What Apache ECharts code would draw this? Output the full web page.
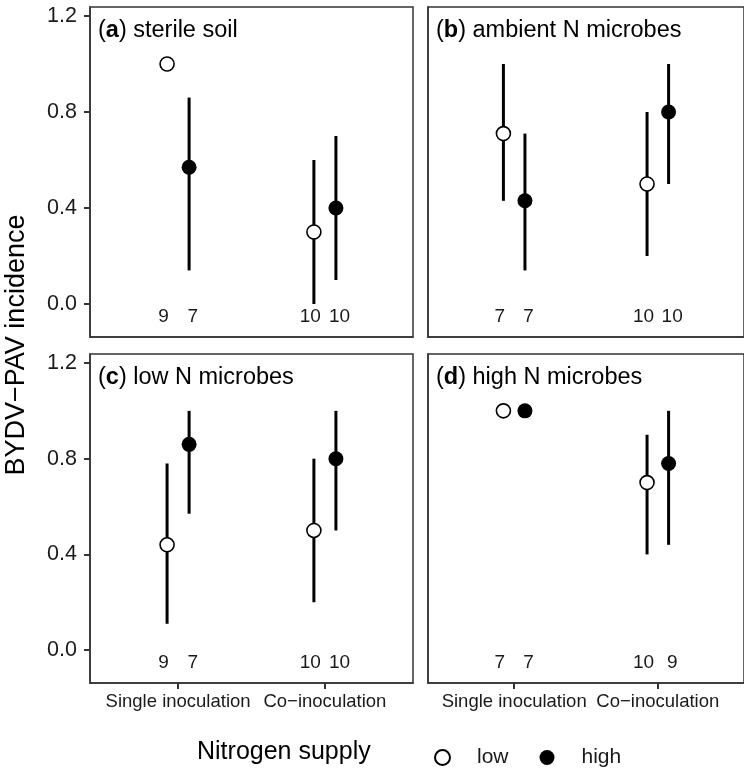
<!DOCTYPE html>
<html>
<head>
<meta charset="utf-8">
<script src="https://cdn.jsdelivr.net/npm/echarts@6/dist/echarts.min.js"></script>
<style>
  html, body { margin: 0; padding: 0; background: #fff; }
  #chart { width: 744px; height: 773px; }
</style>
</head>
<body>
<div id="chart"></div>
<script>
// categories and panels
const categories = ["Single inoculation", "Co\u2212inoculation"];
const panelLetters = ["a", "b", "c", "d"];
const panelNames = ["sterile soil", "ambient N microbes", "low N microbes", "high N microbes"];

// low N supply: mean, lower, upper (per panel: [single, co])
const lowMean = [[1.0, 0.3], [0.71, 0.5], [0.44, 0.5], [1.0, 0.7]];
const lowLo = [[null, 0.0], [0.43, 0.2], [0.11, 0.2], [null, 0.4]];
const lowHi = [[null, 0.6], [1.0, 0.8], [0.78, 0.8], [null, 0.9]];
const lowN = [[9, 10], [7, 10], [9, 10], [7, 10]];

// high N supply
const highMean = [[0.57, 0.4], [0.43, 0.8], [0.86, 0.8], [1.0, 0.78]];
const highLo = [[0.14, 0.1], [0.14, 0.5], [0.57, 0.5], [null, 0.44]];
const highHi = [[0.86, 0.7], [0.71, 1.0], [1.0, 1.0], [null, 1.0]];
const highN = [[7, 10], [7, 10], [7, 10], [7, 9]];

const yTicks = [0, 0.4, 0.8, 1.2];

const FONT = "'Liberation Sans', Arial, Helvetica, sans-serif";
const dodge = 0.075;     // point dodge
const nDodge = 0.1;      // sample size label dodge
const nY = -0.055;

// panel boxes (px)
const boxes = [
  { left: 90, top: 7, width: 323, height: 330 },
  { left: 428, top: 7, width: 323, height: 330 },
  { left: 90, top: 354, width: 323, height: 329 },
  { left: 428, top: 354, width: 323, height: 329 }
];

const myChart = echarts.init(document.getElementById("chart"));

const grids = [], xAxes = [], yAxes = [], series = [], titles = [];

boxes.forEach(function (b, i) {
  const isLeft = i % 2 === 0;
  const isBottom = i >= 2;
  grids.push({
    left: b.left, top: b.top, width: b.width, height: b.height,
    show: true, borderColor: "#333", borderWidth: 1.5, backgroundColor: "#fff"
  });
  xAxes.push({
    gridIndex: i, type: "value", min: 0.4, max: 2.6,
    axisLine: { show: true, onZero: false, lineStyle: { color: "#333", width: 1.5 } },
    splitLine: { show: false },
    axisTick: { show: isBottom, customValues: [1, 2], length: 6, lineStyle: { color: "#333", width: 2 } },
    axisLabel: {
      show: isBottom, customValues: [1, 2], margin: 9,
      color: "#1a1a1a", fontFamily: FONT, fontSize: 18.5,
      formatter: function (v) { return categories[Math.round(v) - 1]; }
    }
  });
  yAxes.push({
    gridIndex: i, type: "value", min: -0.1375, max: 1.2375,
    axisLine: { show: true, onZero: false, lineStyle: { color: "#333", width: 1.5 } },
    splitLine: { show: false },
    axisTick: { show: isLeft, customValues: yTicks, length: 6, lineStyle: { color: "#333", width: 2 } },
    axisLabel: {
      show: isLeft, customValues: yTicks, margin: 13,
      color: "#1a1a1a", fontFamily: FONT, fontSize: 21.5,
      formatter: function (v) { return v.toFixed(1); }
    }
  });
  titles.push({
    text: "{p|(}{b|" + panelLetters[i] + "}{p|) " + panelNames[i] + "}",
    left: b.left + 3, top: b.top + 7,
    textStyle: {
      fontWeight: "normal",
      rich: {
        p: { fontFamily: FONT, fontSize: 23.5, fontWeight: "normal", color: "#000" },
        b: { fontFamily: FONT, fontSize: 23.5, fontWeight: "bold", color: "#000" }
      }
    }
  });

  // error bars
  const bars = [];
  [0, 1].forEach(function (c) {
    if (lowLo[i][c] !== null) bars.push([c + 1 - dodge, lowLo[i][c], lowHi[i][c]]);
    if (highLo[i][c] !== null) bars.push([c + 1 + dodge, highLo[i][c], highHi[i][c]]);
  });
  series.push({
    type: "custom", name: "ci", xAxisIndex: i, yAxisIndex: i, z: 1,
    encode: { x: 0, y: [1, 2] },
    data: bars,
    silent: true,
    renderItem: function (params, api) {
      const x = api.value(0);
      const p1 = api.coord([x, api.value(1)]);
      const p2 = api.coord([x, api.value(2)]);
      return {
        type: "line",
        shape: { x1: p1[0], y1: p1[1], x2: p2[0], y2: p2[1] },
        style: { stroke: "#000", lineWidth: 3 }
      };
    }
  });

  // points
  series.push({
    type: "scatter", name: "low", xAxisIndex: i, yAxisIndex: i, z: 3,
    symbol: "circle", symbolSize: 14,
    itemStyle: { color: "#fff", borderColor: "#000", borderWidth: 1.6, opacity: 1 },
    data: [0, 1].map(function (c) { return [c + 1 - dodge, lowMean[i][c]]; })
  });
  series.push({
    type: "scatter", name: "high", xAxisIndex: i, yAxisIndex: i, z: 3,
    symbol: "circle", symbolSize: 15,
    itemStyle: { color: "#000", borderColor: "#000", borderWidth: 0, opacity: 1 },
    data: [0, 1].map(function (c) { return [c + 1 + dodge, highMean[i][c]]; })
  });

  // sample sizes
  const nData = [];
  [0, 1].forEach(function (c) {
    nData.push([c + 1 - nDodge, nY, lowN[i][c]]);
    nData.push([c + 1 + nDodge, nY, highN[i][c]]);
  });
  series.push({
    type: "custom", name: "n", xAxisIndex: i, yAxisIndex: i, z: 2,
    encode: { x: 0, y: 1 },
    data: nData,
    silent: true,
    renderItem: function (params, api) {
      const p = api.coord([api.value(0), api.value(1)]);
      return {
        type: "text", x: p[0], y: p[1],
        style: {
          text: String(api.value(2)), align: "center", verticalAlign: "middle",
          fontFamily: FONT, fontSize: 19, fill: "#1a1a1a"
        }
      };
    }
  });
});

myChart.setOption({
  animation: false,
  title: titles,
  grid: grids,
  xAxis: xAxes,
  yAxis: yAxes,
  legend: {
    data: ["low", "high"],
    left: 429, top: 742,
    itemWidth: 15, itemHeight: 15, itemGap: 31,
    textStyle: { fontFamily: FONT, fontSize: 21, color: "#1a1a1a", padding: [0, 0, 0, 22] },
    selectedMode: false
  },
  graphic: [
    {
      type: "text", x: 17, y: 345, rotation: Math.PI / 2,
      style: {
        text: "BYDV\u2212PAV incidence", align: "center", verticalAlign: "middle",
        fontFamily: FONT, fontSize: 27, fill: "#000"
      }
    },
    {
      type: "text", x: 197, y: 752,
      style: {
        text: "Nitrogen supply", align: "left", verticalAlign: "middle",
        fontFamily: FONT, fontSize: 25, fill: "#000"
      }
    }
  ],
  series: series
});
</script>
</body>
</html>
